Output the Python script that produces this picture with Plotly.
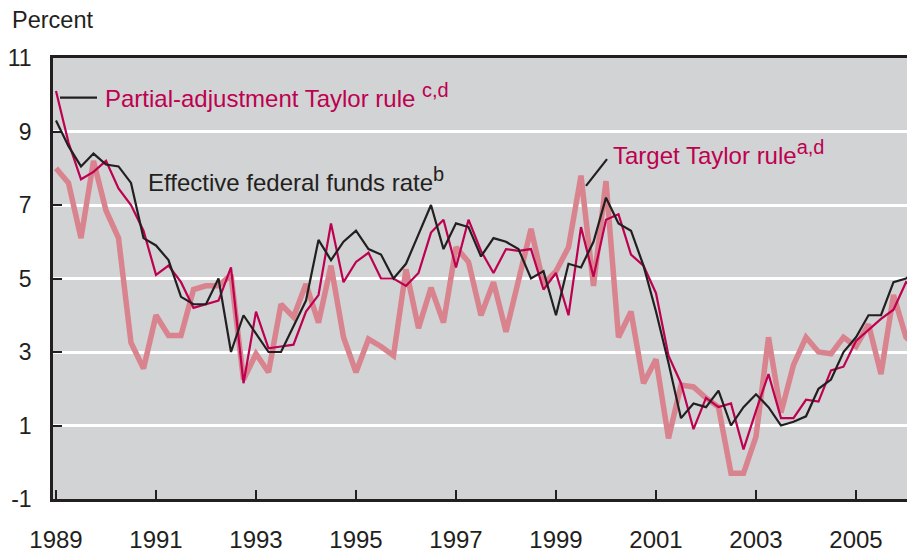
import plotly.graph_objects as go

FONT_FAMILY = "'Liberation Sans', Arial, sans-serif"
TEXT = '#231f20'
CRIMSON = '#be0050'
PINK = '#d9838f'
PLOT_BG = '#d1d3d4'

# quarterly observations, 1989:Q1 onwards
fed_funds = [
    9.3, 8.6, 8.05, 8.4, 8.1, 8.05, 7.6, 6.1, 5.9, 5.5, 4.5, 4.3,
    4.3, 5.0, 3.0, 4.0, 3.5, 3.0, 3.0, 3.7, 4.4, 6.05, 5.5, 6.0,
    6.3, 5.8, 5.65, 5.0, 5.4, 6.2, 7.0, 5.8, 6.5, 6.4, 5.6, 6.1,
    6.0, 5.8, 5.0, 5.2, 4.0, 5.4, 5.3, 6.0, 7.2, 6.5, 6.3, 5.35,
    4.1, 2.7, 1.2, 1.6, 1.5, 1.95, 1.0, 1.5, 1.85, 1.5, 1.0, 1.1,
    1.25, 2.0, 2.25, 3.0, 3.4, 4.0, 4.0, 4.9, 5.0, 5.3,
]
partial_taylor = [
    10.1, 8.7, 7.7, 7.9, 8.2, 7.45, 7.0, 6.3, 5.1, 5.35, 4.9, 4.2,
    4.3, 4.4, 5.3, 2.15, 4.1, 3.1, 3.15, 3.2, 4.1, 4.55, 6.5, 4.9,
    5.45, 5.7, 5.0, 5.0, 4.8, 5.15, 6.25, 6.6, 5.3, 6.6, 5.75, 5.15,
    5.8, 5.75, 5.8, 4.7, 5.15, 4.0, 6.4, 5.05, 6.6, 6.75, 5.65, 5.35,
    4.6, 2.9, 2.15, 0.9, 1.75, 1.5, 1.6, 0.35, 1.4, 2.4, 1.2, 1.2,
    1.7, 1.65, 2.5, 2.6, 3.3, 3.6, 3.9, 4.15, 4.9, 4.65,
]
target_taylor = [
    8.0, 7.6, 6.1, 8.2, 6.85, 6.1, 3.25, 2.55, 4.0, 3.45, 3.45, 4.7,
    4.8, 4.8, 5.1, 2.25, 2.95, 2.45, 4.3, 3.95, 4.85, 3.8, 5.35, 3.4,
    2.45, 3.35, 3.15, 2.9, 5.25, 3.65, 4.75, 3.8, 5.85, 5.45, 4.0, 4.9,
    3.55, 4.9, 6.35, 4.85, 5.2, 5.85, 7.8, 4.8, 7.65, 3.4, 4.1, 2.15,
    2.8, 0.65, 2.1, 2.05, 1.75, 1.5, -0.3, -0.3, 0.7, 3.4, 1.35, 2.65,
    3.4, 3.0, 2.95, 3.4, 3.15, 3.75, 2.4, 4.55, 3.4, 3.1,
]
quarters = [1989 + q / 4 for q in range(len(fed_funds))]

year_ticks = list(range(1989, 2007, 2))
pct_ticks = [-1, 1, 3, 5, 7, 9, 11]
pct_labels = [str(v) for v in pct_ticks]

SUP = '<sup><span style="font-size:20px">{}</span></sup>'

fig = go.Figure()
fig.add_trace(go.Scatter(x=quarters, y=target_taylor, mode='lines',
                         line=dict(color=PINK, width=5.5), name='Target Taylor rule'))
fig.add_trace(go.Scatter(x=quarters, y=partial_taylor, mode='lines',
                         line=dict(color=CRIMSON, width=2.2), name='Partial-adjustment Taylor rule'))
fig.add_trace(go.Scatter(x=quarters, y=fed_funds, mode='lines',
                         line=dict(color=TEXT, width=2.2), name='Effective federal funds rate'))

# leader lines for the labels
fig.add_shape(type='line', x0=1989.08, y0=9.92, x1=1989.82, y1=9.92,
              line=dict(color=TEXT, width=2.2))
fig.add_shape(type='line', x0=1999.6, y0=7.52, x1=2000.02, y1=8.25,
              line=dict(color=TEXT, width=2.2))

fig.add_annotation(x=1989.94, y=9.98, xanchor='left', yanchor='middle', showarrow=False,
                   text='Partial-adjustment Taylor rule ' + SUP.format('c,d'),
                   font=dict(color=CRIMSON, size=24))
fig.add_annotation(x=1990.8, y=7.7, xanchor='left', yanchor='middle', showarrow=False,
                   text='Effective federal funds rate' + SUP.format('b'),
                   font=dict(color=TEXT, size=24))
fig.add_annotation(x=2000.1, y=8.44, xanchor='left', yanchor='middle', showarrow=False,
                   text='Target Taylor rule' + SUP.format('a,d'),
                   font=dict(color=CRIMSON, size=24))
fig.add_annotation(x=-0.05, y=1.086, xref='paper', yref='paper', xanchor='left', yanchor='middle',
                   showarrow=False, text='Percent', font=dict(color=TEXT, size=23.5))

# page body adds an 8px offset, so the figure is 8px smaller than the window
fig.update_layout(
    width=907, height=542,
    margin=dict(l=45, r=0, t=50, b=51),
    paper_bgcolor='white',
    plot_bgcolor=PLOT_BG,
    showlegend=False,
    font=dict(family=FONT_FAMILY, size=23, color=TEXT),
)
fig.update_xaxes(
    range=[1988.94, 2006.18], tickvals=year_ticks, ticks='inside', ticklen=9, tickwidth=2,
    tickcolor=TEXT, showline=True, linecolor=TEXT, linewidth=2.5, mirror=True,
    showgrid=False, zeroline=False, ticklabelstandoff=17, tickfont=dict(size=24),
    automargin=False,
)
fig.update_yaxes(
    range=[-1, 11], tickvals=pct_ticks, ticktext=pct_labels, ticks='inside', ticklen=9,
    tickwidth=2, tickcolor=TEXT, showline=True, linecolor=TEXT, linewidth=2.5,
    showgrid=True, gridcolor='white', gridwidth=2.5, zeroline=False,
    ticklabelstandoff=14, tickfont=dict(size=23), automargin=False,
)

fig.write_html("out.html")
